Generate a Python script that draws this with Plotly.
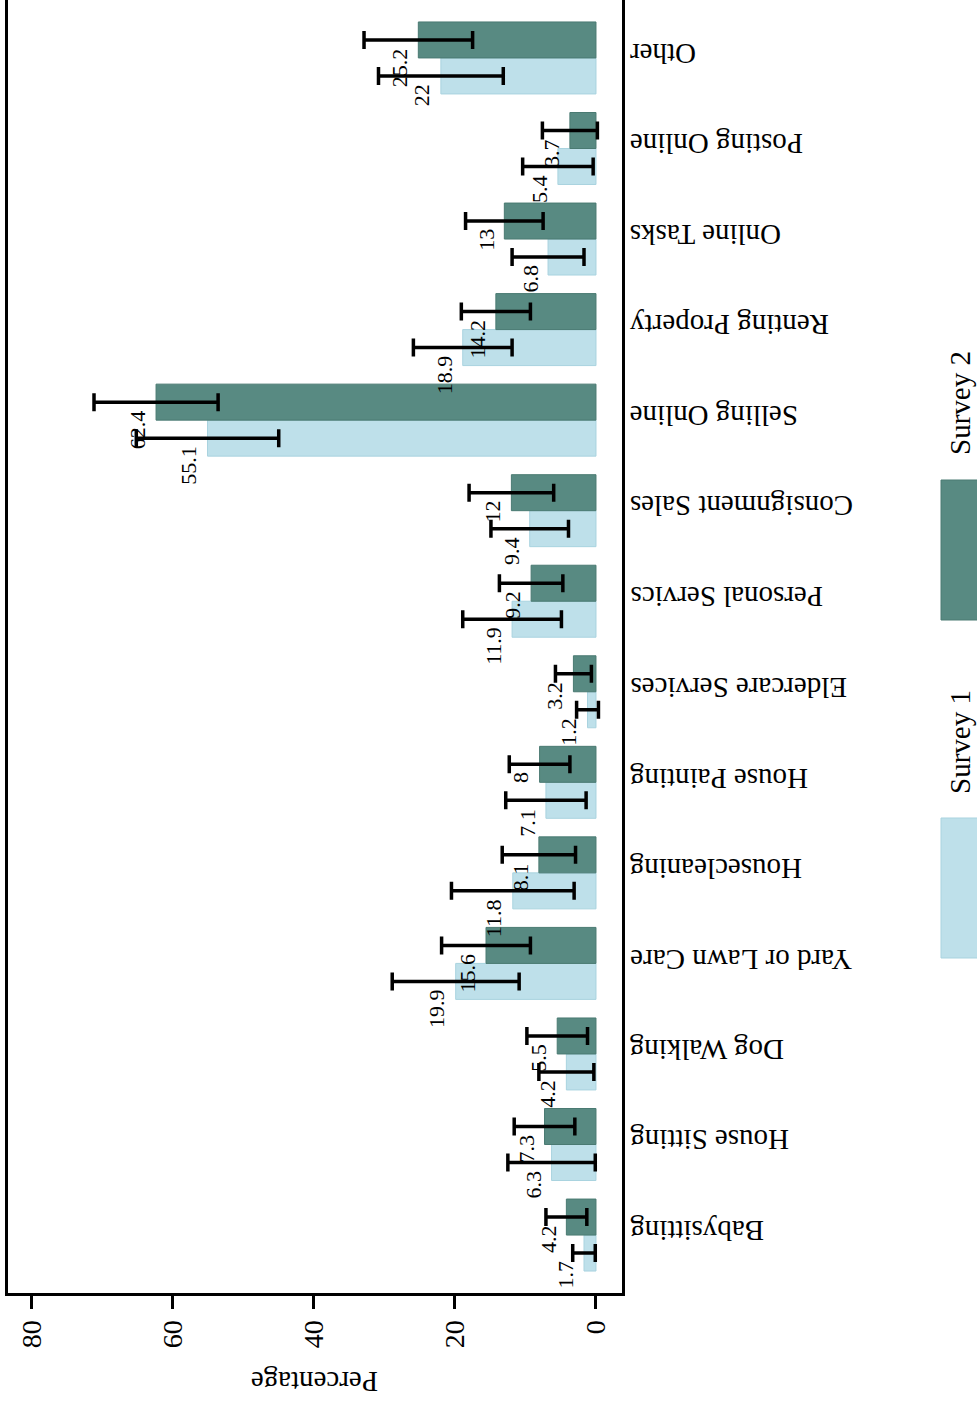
import plotly.graph_objects as go

categories = ["Babysitting", "House Sitting", "Dog Walking", "Yard or Lawn Care",
              "Housecleaning", "House Painting", "Eldercare Services", "Personal Servics",
              "Consignment Sales", "Selling Online", "Renting Property", "Online Tasks",
              "Posting Online", "Other"]
survey1 = [1.7, 6.3, 4.2, 19.9, 11.8, 7.1, 1.2, 11.9, 9.4, 55.1, 18.9, 6.8, 5.4, 22]
survey2 = [4.2, 7.3, 5.5, 15.6, 8.1, 8, 3.2, 9.2, 12, 62.4, 14.2, 13, 3.7, 25.2]
err1 = [1.6, 6.2, 3.9, 9.0, 8.7, 5.7, 1.55, 7.0, 5.5, 10.1, 7.0, 5.1, 5.0, 8.85]
err2 = [2.9, 4.3, 4.3, 6.3, 5.2, 4.3, 2.55, 4.5, 6.0, 8.8, 4.9, 5.5, 3.9, 7.7]
series_names = ["Survey 1", "Survey 2"]
tick_vals = [0, 20, 40, 60, 80]

LIGHT = "#bee0ea"
DARK = "#588a82"
FONT = "Liberation Serif"

W, H = 977, 1403
L, R, T, B = 8, 622, 0, 1293  # plot area in px


def px_x(p):
    return (p - L) / (R - L)


def px_y(p):
    return (B - p) / (B - T)


fig = go.Figure()
err_style = dict(type="data", thickness=3.5, width=9, color="black")
fig.add_trace(go.Bar(orientation="h", y=categories, x=survey1, name=series_names[0],
                     marker=dict(color=LIGHT, line=dict(color="#a9d3df", width=1)),
                     error_x=dict(array=err1, **err_style), showlegend=False))
fig.add_trace(go.Bar(orientation="h", y=categories, x=survey2, name=series_names[1],
                     marker=dict(color=DARK, line=dict(color="#4a7a72", width=1)),
                     error_x=dict(array=err2, **err_style), showlegend=False))

annotations = []
# value labels
for vals, ysh in ((survey1, -24), (survey2, 12)):
    for c, v in zip(categories, vals):
        annotations.append(dict(x=v, y=c, xref="x", yref="y", text=f"{v:g}",
                                textangle=-90, showarrow=False, xanchor="right",
                                yanchor="top", xshift=-4, yshift=ysh,
                                font=dict(family=FONT, size=22, color="black")))
# category labels (upside down)
for c in categories:
    annotations.append(dict(x=1, y=c, xref="paper", yref="y", text=c, textangle=180,
                            showarrow=False, xanchor="left", yanchor="middle",
                            xshift=6, yshift=4,
                            font=dict(family=FONT, size=29, color="black")))
# axis title
annotations.append(dict(x=0.5, y=px_y(1382), xref="paper", yref="paper", text="Percentage",
                        textangle=180, showarrow=False, xanchor="center", yanchor="middle",
                        font=dict(family=FONT, size=29, color="black")))
# legend
shapes = []
legend_items = [(series_names[0], LIGHT, "#a9d3df", 818, 958, 742),
                (series_names[1], DARK, "#4a7a72", 480, 620, 403)]
for name, col, lcol, y0, y1, ty in legend_items:
    shapes.append(dict(type="rect", xref="paper", yref="paper",
                       x0=px_x(941), x1=px_x(978), y0=px_y(y1), y1=px_y(y0),
                       fillcolor=col, line=dict(color=lcol, width=1)))
    annotations.append(dict(x=px_x(960), y=px_y(ty), xref="paper", yref="paper", text=name,
                            textangle=-90, showarrow=False, xanchor="center", yanchor="middle",
                            font=dict(family=FONT, size=29, color="black")))

fig.update_layout(
    width=W, height=H,
    margin=dict(l=L, r=W - R, t=T, b=H - B, pad=0),
    plot_bgcolor="white", paper_bgcolor="white",
    barmode="group", bargap=0.205, bargroupgap=0,
    annotations=annotations, shapes=shapes,
    font=dict(family=FONT, color="black"),
    xaxis=dict(range=[83.4, -3.69], tickvals=tick_vals, ticks="outside", ticklen=13,
               tickwidth=3, tickcolor="black", tickangle=-90,
               tickfont=dict(family=FONT, size=28, color="black"),
               showgrid=False, zeroline=False, showline=True, linecolor="black",
               linewidth=3, mirror=False),
    yaxis=dict(type="category", categoryorder="array", categoryarray=categories,
               range=[-0.64, 13.64], showticklabels=False, ticks="", side="right",
               showgrid=False, zeroline=False, showline=True, linecolor="black",
               linewidth=3, mirror=True),
)

fig.write_html("out.html")
